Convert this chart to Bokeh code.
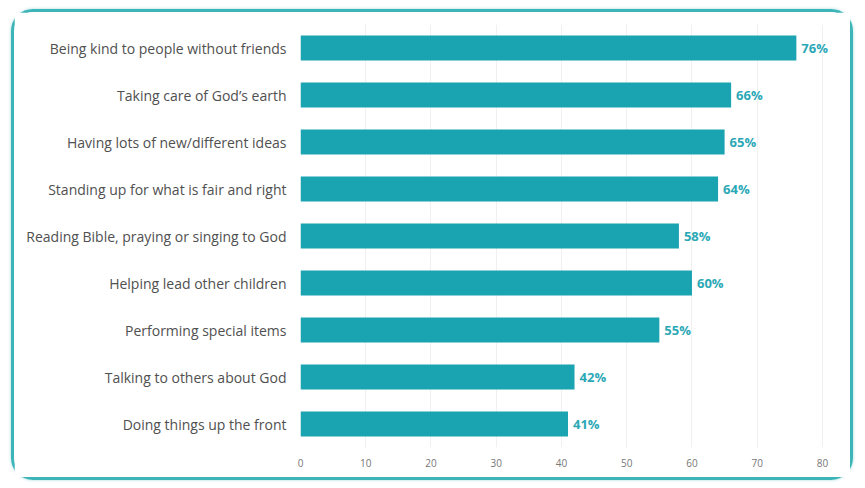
from bokeh.plotting import figure
from bokeh.models import ColumnDataSource, FactorRange, Range1d, FixedTicker
from bokeh.core.properties import value
from bokeh.embed import file_html
from bokeh.resources import INLINE

categories = [
    "Being kind to people without friends",
    "Taking care of God\u2019s earth",
    "Having lots of new/different ideas",
    "Standing up for what is fair and right",
    "Reading Bible, praying or singing to God",
    "Helping lead other children",
    "Performing special items",
    "Talking to others about God",
    "Doing things up the front",
]
values = [76, 66, 65, 64, 58, 60, 55, 42, 41]
labels = [f"{v}%" for v in values]
ticks = [0, 10, 20, 30, 40, 50, 60, 70, 80]

src = ColumnDataSource(dict(cat=categories, val=values, lab=labels))

p = figure(
    width=842, height=471,
    y_range=FactorRange(factors=list(reversed(categories))),
    x_range=Range1d(0, 82),
    output_backend="svg", toolbar_location=None,
    min_border_left=286, min_border_right=21, min_border_top=12, min_border_bottom=36,
)
p.margin = (9, 0, 0, 11)
p.styles = {"border": "3px solid #3cb4b8", "border-radius": "22px",
            "box-shadow": "0 0 3px rgba(60,180,184,0.5)"}
p.outline_line_color = None
p.background_fill_color = "white"

p.hbar(y="cat", right="val", left=0, height=0.53, source=src,
       fill_color="#1aa3b1", line_color=None)
p.text(x="val", y="cat", text="lab", source=src, x_offset=5,
       text_baseline="middle", text_align="left",
       text_font=value("Open Sans"), text_font_size="13px",
       text_font_style="bold", text_color="#2ba8b6")

p.xaxis.ticker = FixedTicker(ticks=ticks)
p.xgrid.ticker = FixedTicker(ticks=ticks)
p.xgrid.grid_line_color = "#f0f0f0"
p.ygrid.grid_line_color = None
for ax in (p.xaxis, p.yaxis):
    ax.axis_line_color = None
    ax.major_tick_line_color = None
    ax.minor_tick_line_color = None
    ax.major_label_text_font = "Open Sans"
p.xaxis.major_label_text_color = "#777777"
p.yaxis.major_label_text_color = "#505050"
p.xaxis.major_label_text_font_size = "10px"
p.xaxis.major_label_standoff = 5
p.yaxis.major_label_text_font_size = "14px"
p.yaxis.major_label_standoff = 8

open("out.html", "w").write(file_html(p, INLINE))
